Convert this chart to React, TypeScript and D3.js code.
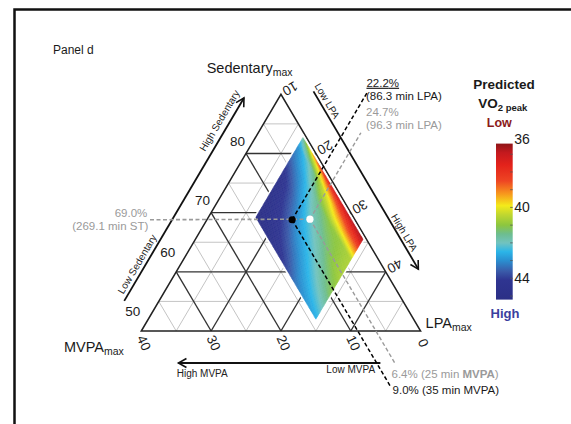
import React from 'react';
import * as d3 from 'd3';

// ---------- data ----------
const sedTicks = [50, 60, 70, 80];
const lpaTicks = [10, 20, 30, 40];
const mvpaTicks = [40, 30, 20, 10, 0];
const cbTicks = [36, 40, 44];

// predicted VO2 peak surface (rows: MVPA %, cols: LPA %)
const surfMvpa = [0.5, 1, 2, 4, 7, 10, 14];
const surfLpa = [16.8, 20, 24, 28, 31, 34];
const surfVo2 = [
  [41.7, 39.0, 37.3, 36.9, 36.7, 36.6],
  [42.2, 40.5, 38.8, 37.9, 37.4, 37.1],
  [43.0, 42.0, 40.4, 39.2, 38.6, 38.4],
  [43.5, 42.8, 41.6, 41.0, 40.9, 40.6],
  [44.6, 43.6, 42.4, 41.7, 41.1, 40.7],
  [44.9, 44.1, 43.1, 42.4, 41.8, 41.2],
  [45.2, 44.8, 44.2, 43.3, 42.9, 42.6],
];

// highlighted compositions: [black, white]
const ptMvpa = [9.0, 6.4];
const ptLpa = [22.2, 24.7];
const ptSedPct = '69.0%';
const ptSedMin = '(269.1 min ST)';
const ptMvpaMin = [35, 25];
const ptLpaMin = [86.3, 96.3];

// colour bar
const cbDomain = [36.4, 45.2];
const cbStopVal = [36.4, 36.9, 37.6, 38.5, 39.2, 39.9, 40.4, 41.0, 41.5, 42.0, 42.5, 43.0, 43.6, 44.1, 45.2];
const cbStopCol = ['#8e1518', '#c3191e', '#e3221b', '#ee4523', '#f7941d', '#f4ea1a', '#c1d72f', '#8cc63f', '#6dbd8f', '#72c3bf', '#2bb5e8', '#2a8fd0', '#3a5ba9', '#2f3591', '#2b2f86'];

const FONT = "'Liberation Sans', Arial, sans-serif";
const DARK = '#1a1a1a';
const GRAY = '#9a9a9a';

export default function App() {
  const W = 571, H = 424;
  const T = { l: 141.3, r: 420.6, b: 331, t: 94.3 };
  const sedY = d3.scaleLinear().domain([50, 90]).range([T.b, T.t]);
  const mvX = d3.scaleLinear().domain([40, 0]).range([T.l, T.r]);
  const apexX = (T.l + T.r) / 2;
  const proj = (m: number, l: number): [number, number] => {
    const s = 100 - m - l;
    const wa = (s - 50) / 40;
    return [mvX(m) + (apexX - mvX(0)) * wa, sedY(s)];
  };
  const color = d3.scaleLinear<string>().domain(cbStopVal).range(cbStopCol).interpolate(d3.interpolateRgb).clamp(true);

  const surf = (m: number, l: number) => {
    const i = Math.max(0, Math.min(surfMvpa.length - 2, d3.bisectRight(surfMvpa, m) - 1));
    const j = Math.max(0, Math.min(surfLpa.length - 2, d3.bisectRight(surfLpa, l) - 1));
    const tm = (m - surfMvpa[i]) / (surfMvpa[i + 1] - surfMvpa[i]);
    const tl = (l - surfLpa[j]) / (surfLpa[j + 1] - surfLpa[j]);
    const a = surfVo2[i][j] * (1 - tl) + surfVo2[i][j + 1] * tl;
    const b = surfVo2[i + 1][j] * (1 - tl) + surfVo2[i + 1][j + 1] * tl;
    return a * (1 - tm) + b * tm;
  };

  const m0 = surfMvpa[0], m1 = surfMvpa[surfMvpa.length - 1];
  const l0 = surfLpa[0], l1 = surfLpa[surfLpa.length - 1];
  const nM = 70, nL = 70;
  const cells: { d: string; c: string }[] = [];
  for (let i = 0; i < nM; i++) {
    const ma = m0 + (m1 - m0) * i / nM, mb = m0 + (m1 - m0) * (i + 1) / nM;
    for (let j = 0; j < nL; j++) {
      const la = l0 + (l1 - l0) * j / nL, lb = l0 + (l1 - l0) * (j + 1) / nL;
      const pts = [proj(ma, la), proj(mb, la), proj(mb, lb), proj(ma, lb)];
      const c = color(surf((ma + mb) / 2, (la + lb) / 2));
      cells.push({ d: 'M' + pts.map(p => p[0].toFixed(2) + ',' + p[1].toFixed(2)).join('L') + 'Z', c });
    }
  }
  const diamond = [proj(m0, l0), proj(m1, l0), proj(m1, l1), proj(m0, l1)].map(p => p.join(',')).join(' ');

  // grid lines
  const gridLines: { a: [number, number]; b: [number, number]; major: boolean }[] = [];
  d3.range(55, 90, 5).forEach(s => gridLines.push({ a: proj(90 - s, 10), b: proj(0, 100 - s), major: s % 10 === 0 }));
  d3.range(5, 40, 5).forEach(m => gridLines.push({ a: proj(m, 50 - m), b: proj(m, 10), major: m % 10 === 0 }));
  d3.range(15, 50, 5).forEach(l => gridLines.push({ a: proj(50 - l, l), b: proj(0, l), major: l % 10 === 0 }));
  gridLines.sort((x, y) => (x.major ? 1 : 0) - (y.major ? 1 : 0));

  const BL = proj(40, 10), AP = proj(0, 10), BR = proj(0, 50);
  const edge = (P0: number[], P1: number[]) => {
    const dx = P1[0] - P0[0], dy = P1[1] - P0[1];
    const len = Math.hypot(dx, dy);
    const n = [dy / len, -dx / len];
    return {
      at: (t: number, off: number): [number, number] => [P0[0] + dx * t + n[0] * off, P0[1] + dy * t + n[1] * off],
      angle: Math.atan2(dy, dx) * 180 / Math.PI,
    };
  };
  const eL = edge(BL, AP), eR = edge(AP, BR), eB = edge(BR, BL);
  const arrows = [
    { e: eL, t0: 0.063, t1: 0.92, off: 30 },
    { e: eR, t0: 0.051, t1: 0.802, off: 29.5 },
    { e: eB, t0: 0.144, t1: 0.867, off: 32 },
  ];
  const arrowLabels = [
    { e: eL, t: 0.804, off: 39.5, rot: eL.angle, txt: 'High Sedentary', anchor: 'middle' },
    { e: eL, t: 0.202, off: 37.5, rot: eL.angle, txt: 'Low Sedentary', anchor: 'middle' },
    { e: eR, t: 0.106, off: 36.5, rot: eR.angle, txt: 'Low LPA', anchor: 'middle' },
    { e: eR, t: 0.662, off: 36, rot: eR.angle, txt: 'High LPA', anchor: 'middle' },
    { e: eB, t: 0.873, off: 42.3, rot: 0, txt: 'High MVPA', anchor: 'start' },
    { e: eB, t: 0.163, off: 38.3, rot: 0, txt: 'Low MVPA', anchor: 'end' },
  ];

  // highlighted points and leaders
  const P = ptMvpa.map((m, k) => proj(m, ptLpa[k]));
  const upSed = [90.5, 83.5];
  const downSed = [40.6, 44.3];
  const upEnd = ptLpa.map((l, k) => proj(100 - l - upSed[k], l));
  const downEnd = ptMvpa.map((m, k) => proj(m, 100 - m - downSed[k]));
  const leftX = 150;

  const cbY = d3.scaleLinear().domain(cbDomain).range([143.6, 299.6]);
  const cbX = 496, cbW = 16.7;

  return (
    <svg width={W} height={H} style={{ position: 'absolute', left: 0, top: 0, background: '#fff' }} fontFamily={FONT}>
      <defs>
        <linearGradient id="cb" x1="0" y1="0" x2="0" y2="1">
          {cbStopVal.map((v, i) => (
            <stop key={i} offset={(v - cbDomain[0]) / (cbDomain[1] - cbDomain[0])} stopColor={cbStopCol[i]} />
          ))}
        </linearGradient>
        <marker id="arr" viewBox="-1 -6 12 12" refX={9} refY={0} markerWidth={12} markerHeight={12} orient="auto" markerUnits="userSpaceOnUse">
          <path d="M1,-4.5 L9,0 L1,4.5" fill="none" stroke="#111" strokeWidth={1.6} />
        </marker>
      </defs>
      <rect x={0} y={0} width={W} height={H} fill="#fff" />
      <rect x={14.5} y={9.5} width={700} height={600} fill="none" stroke="#111" strokeWidth={2.5} />
      <text x={53} y={54} fontSize={12} fill={DARK}>Panel d</text>

      {/* grid */}
      {gridLines.map((g, i) => (
        <line key={i} x1={g.a[0]} y1={g.a[1]} x2={g.b[0]} y2={g.b[1]}
          stroke={g.major ? '#333' : '#c4c4c4'} strokeWidth={g.major ? 1.35 : 1} />
      ))}
      <polygon points={[BL, AP, BR].map(p => p.join(',')).join(' ')} fill="none" stroke="#222" strokeWidth={1.5} />

      {/* surface */}
      <polygon points={diamond} fill="#fff" stroke="#fff" strokeWidth={4} strokeLinejoin="miter" />
      {cells.map((c, i) => <path key={i} d={c.d} fill={c.c} stroke={c.c} strokeWidth={0.5} />)}

      {/* tick labels */}
      {sedTicks.map(s => {
        const p = proj(90 - s, 10);
        const dy = s > 60 ? -12 : -19.5;
        return <text key={'s' + s} x={p[0] - 8.5} y={p[1] + dy} fontSize={13.5} fill={DARK} textAnchor="middle" dominantBaseline="central">{s}</text>;
      })}
      {lpaTicks.map(l => {
        const p = proj(0, l);
        const x = p[0] + 9, y = p[1] - 6;
        return <text key={'l' + l} x={x} y={y} fontSize={13.5} fill={DARK} textAnchor="middle" dominantBaseline="central" transform={`rotate(150 ${x} ${y})`}>{l}</text>;
      })}
      {mvpaTicks.map(m => {
        const p = proj(m, 50 - m);
        const x = p[0] + 2.5, y = p[1] + 12;
        return <text key={'m' + m} x={x} y={y} fontSize={13.5} fill={DARK} textAnchor="middle" dominantBaseline="central" transform={`rotate(65 ${x} ${y})`}>{m}</text>;
      })}

      {/* axis titles */}
      <text x={AP[0] - 74.3} y={AP[1] - 21.6} fontSize={14.5} fill={DARK}>Sedentary<tspan fontSize={10.5} dy={3}>max</tspan></text>
      <text x={BL[0] - 77.3} y={BL[1] + 20.7} fontSize={14.5} fill={DARK}>MVPA<tspan fontSize={10.5} dy={3}>max</tspan></text>
      <text x={BR[0] + 5} y={BR[1] - 2.7} fontSize={14.5} fill={DARK}>LPA<tspan fontSize={10.5} dy={3}>max</tspan></text>

      {/* direction arrows */}
      {arrows.map((a, i) => {
        const p0 = a.e.at(a.t0, a.off), p1 = a.e.at(a.t1, a.off);
        return <line key={i} x1={p0[0]} y1={p0[1]} x2={p1[0]} y2={p1[1]} stroke="#111" strokeWidth={1.8} markerEnd="url(#arr)" />;
      })}
      {arrowLabels.map((a, i) => {
        const p = a.e.at(a.t, a.off);
        return <text key={i} x={p[0]} y={p[1]} fontSize={10} fill="#222" textAnchor={a.anchor as any} dominantBaseline="central"
          transform={`rotate(${a.rot} ${p[0]} ${p[1]})`}>{a.txt}</text>;
      })}

      {/* leaders */}
      <line x1={leftX} y1={P[0][1]} x2={P[1][0]} y2={P[1][1]} stroke={GRAY} strokeWidth={1.6} strokeDasharray="4 2.5" />
      <line x1={P[1][0]} y1={P[1][1]} x2={upEnd[1][0]} y2={upEnd[1][1]} stroke={GRAY} strokeWidth={1.4} strokeDasharray="4 2.5" />
      <line x1={P[1][0]} y1={P[1][1]} x2={downEnd[1][0]} y2={downEnd[1][1]} stroke={GRAY} strokeWidth={1.4} strokeDasharray="4 2.5" />
      <line x1={P[0][0]} y1={P[0][1]} x2={upEnd[0][0]} y2={upEnd[0][1]} stroke="#000" strokeWidth={1.5} strokeDasharray="4 2.5" />
      <line x1={P[0][0]} y1={P[0][1]} x2={downEnd[0][0]} y2={downEnd[0][1]} stroke="#000" strokeWidth={1.5} strokeDasharray="4 2.5" />
      <circle cx={P[0][0]} cy={P[0][1]} r={3.6} fill="#000" />
      <circle cx={P[1][0]} cy={P[1][1]} r={3.6} fill="#fff" />

      {/* leader labels */}
      <text x={leftX - 2.7} y={P[0][1] - 2.7} fontSize={11.5} fill={GRAY} textAnchor="end">{ptSedPct}</text>
      <text x={leftX - 1.7} y={P[0][1] + 10.7} fontSize={11.5} fill={GRAY} textAnchor="end">{ptSedMin}</text>
      <text x={upEnd[0][0] - 1.4} y={upEnd[0][1] - 4.6} fontSize={11.5} fill={DARK} textDecoration="underline">{ptLpa[0].toFixed(1)}%</text>
      <text x={upEnd[0][0] - 1.9} y={upEnd[0][1] + 8.7} fontSize={11.5} fill={DARK}>({ptLpaMin[0]} min LPA)</text>
      <text x={upEnd[1][0] + 5.1} y={upEnd[1][1] - 16.3} fontSize={11.5} fill={GRAY}>{ptLpa[1].toFixed(1)}%</text>
      <text x={upEnd[1][0] + 5.1} y={upEnd[1][1] - 3.3} fontSize={11.5} fill={GRAY}>({ptLpaMin[1]} min LPA)</text>
      <text x={downEnd[1][0] - 4.3} y={downEnd[1][1] + 12.8} fontSize={11.5} fill={GRAY}>{ptMvpa[1].toFixed(1)}% ({ptMvpaMin[1]} min <tspan fontWeight="bold">MVPA</tspan>)</text>
      <text x={downEnd[0][0] + 2} y={downEnd[0][1] + 7} fontSize={11.5} fill={DARK}>{ptMvpa[0].toFixed(1)}% ({ptMvpaMin[0]} min MVPA)</text>

      {/* colour bar */}
      <text x={504} y={89.3} fontSize={13.5} fontWeight="bold" fill={DARK} textAnchor="middle">Predicted</text>
      <text x={478.3} y={108.3} fontSize={13.5} fontWeight="bold" fill={DARK}>VO<tspan fontSize={9.5} dy={3}>2 peak</tspan></text>
      <text x={499.3} y={127.3} fontSize={12.5} fontWeight="bold" fill="#8b1a1a" textAnchor="middle">Low</text>
      <rect x={cbX} y={cbY(cbDomain[0])} width={cbW} height={cbY(cbDomain[1]) - cbY(cbDomain[0])} fill="url(#cb)" />
      {d3.range(37, 46).map(v => (
        <line key={v} x1={cbX + cbW - 2.5} x2={cbX + cbW} y1={cbY(v)} y2={cbY(v)} stroke="#555" strokeWidth={0.8} />
      ))}
      {cbTicks.map(v => (
        <text key={v} x={cbX + cbW + 1.5} y={Math.max(cbY(v), 138.5)} fontSize={14} fill={DARK} dominantBaseline="central">{v}</text>
      ))}
      <text x={505} y={318.3} fontSize={13} fontWeight="bold" fill="#3b3f9e" textAnchor="middle">High</text>
    </svg>
  );
}
